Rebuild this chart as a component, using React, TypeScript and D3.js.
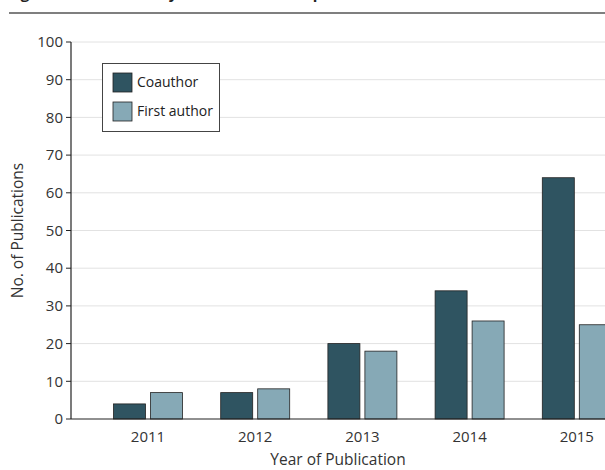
import React from "react";
import * as d3 from "d3";

const years = ["2011", "2012", "2013", "2014", "2015"];
const coauthor = [4, 7, 20, 34, 64];
const firstAuthor = [7, 8, 18, 26, 25];
const yTicks = [0, 10, 20, 30, 40, 50, 60, 70, 80, 90, 100];
const seriesNames = ["Coauthor", "First author"];
const seriesColors = ["#2f5461", "#86a9b6"];

const W = 605;
const H = 470;
const FONT = "'Open Sans', 'Noto Sans', sans-serif";

export default function App() {
  const x0 = d3.scaleBand<string>().domain(years).range([94.4, 94.4 + 5 * 107.2]).padding(0);
  const x1 = d3.scaleBand<string>().domain(seriesNames).range([-34.5, 34.5]).paddingInner(5 / 37);
  const y = d3.scaleLinear().domain([0, 100]).range([419, 42]);
  const axisX = 71;
  const series = [coauthor, firstAuthor];

  return (
    <svg width={W} height={H} style={{ position: "absolute", left: 0, top: 0, background: "#fff" }} fontFamily={FONT}>
      <text x={8} y={-1} fontSize={15} fontWeight={700} fill="#222">
        Figure. Publications by Year of Authorship
      </text>
      <line x1={9} x2={605} y1={13} y2={13} stroke="#555" strokeWidth={1.5} />

      {yTicks.map((t) => (
        <g key={t}>
          {t > 0 && <line x1={axisX} x2={W} y1={y(t)} y2={y(t)} stroke="#e2e2e2" strokeWidth={1} />}
          <line x1={axisX - 5} x2={axisX} y1={y(t)} y2={y(t)} stroke="#222" strokeWidth={1} />
          <text x={axisX - 8} y={y(t)} dy="0.35em" textAnchor="end" fontSize={15} fill="#333">
            {t}
          </text>
        </g>
      ))}

      {years.map((yr, i) => (
        <g key={yr} transform={`translate(${x0(yr)! + x0.bandwidth() / 2},0)`}>
          {series.map((s, j) => (
            <rect
              key={j}
              x={x1(seriesNames[j])!}
              y={y(s[i])}
              width={x1.bandwidth()}
              height={y(0) - y(s[i])}
              fill={seriesColors[j]}
              stroke="#222"
              strokeWidth={0.8}
            />
          ))}
          <text x={0} y={442} textAnchor="middle" fontSize={15} fill="#333">
            {yr}
          </text>
        </g>
      ))}

      <line x1={axisX} x2={axisX} y1={y(100)} y2={y(0)} stroke="#222" strokeWidth={1.2} />
      <line x1={axisX} x2={W} y1={y(0)} y2={y(0)} stroke="#222" strokeWidth={1.2} />

      <text x={338} y={465} textAnchor="middle" fontSize={15.5} fill="#333">
        Year of Publication
      </text>
      <text
        transform={`translate(18,${(y(0) + y(100)) / 2}) rotate(-90)`}
        textAnchor="middle"
        dy="0.35em"
        fontSize={15.5}
        fill="#333"
      >
        No. of Publications
      </text>

      <rect x={102.5} y={63.5} width={117} height={68} fill="#fff" stroke="#444" strokeWidth={1} />
      {seriesNames.map((n, j) => (
        <g key={n} transform={`translate(113,${73 + j * 29})`}>
          <rect x={0} y={0} width={19} height={19} fill={seriesColors[j]} stroke="#222" strokeWidth={0.8} />
          <text x={24} y={9.5} dy="0.35em" fontSize={14} fill="#222">
            {n}
          </text>
        </g>
      ))}
    </svg>
  );
}
